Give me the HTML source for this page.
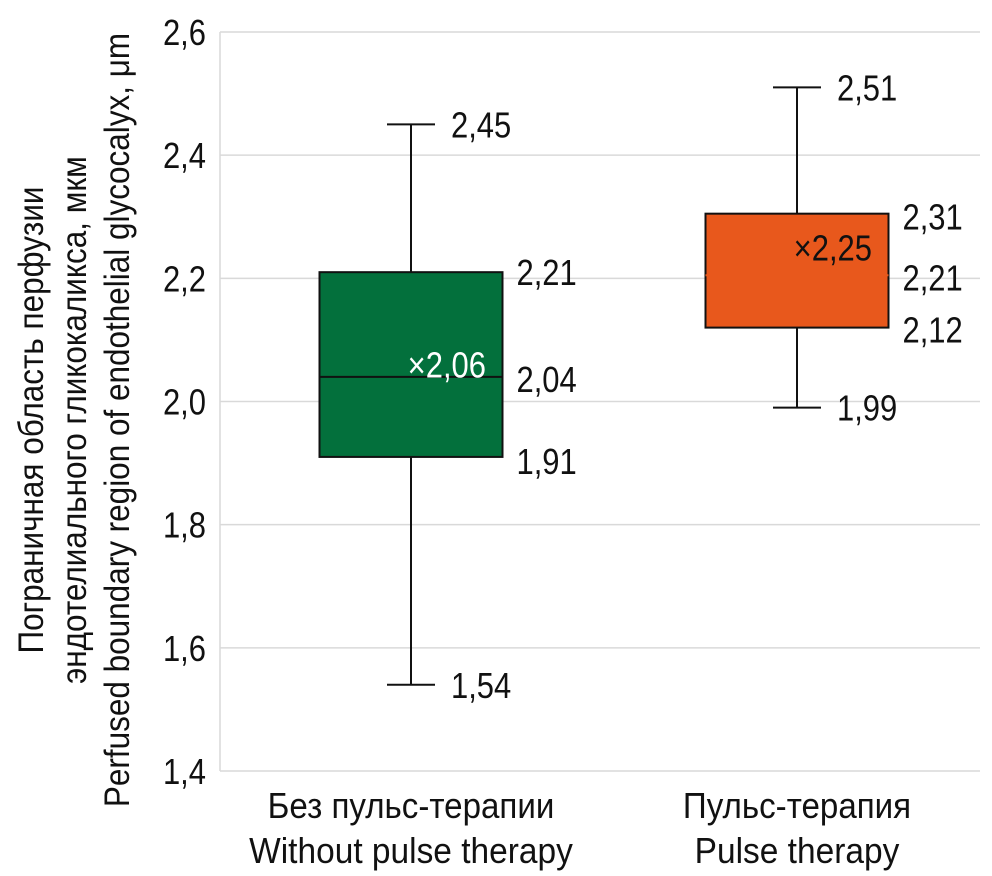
<!DOCTYPE html>
<html><head><meta charset="utf-8">
<style>
html,body{margin:0;padding:0;background:#fff;}
svg{display:block;font-family:"Liberation Sans Narrow","Liberation Sans",sans-serif;}
</style></head>
<body>
<svg id="chart" width="992" height="876" viewBox="0 0 992 876"></svg>
<script>
const categoriesRu = ["Без пульс-терапии", "Пульс-терапия"];
const categoriesEn = ["Without pulse therapy", "Pulse therapy"];
const mins = [1.54, 1.99];
const q1s = [1.91, 2.12];
const medians = [2.04, 2.205];
const q3s = [2.21, 2.305];
const maxs = [2.45, 2.51];
const means = [2.06, 2.25];
const minLabels = ["1,54", "1,99"];
const q1Labels = ["1,91", "2,12"];
const medLabels = ["2,04", "2,21"];
const q3Labels = ["2,21", "2,31"];
const maxLabels = ["2,45", "2,51"];
const meanLabels = ["×2,06", "×2,25"];
const yTicks = [1.4, 1.6, 1.8, 2.0, 2.2, 2.4, 2.6];
const yTickLabels = ["1,4", "1,6", "1,8", "2,0", "2,2", "2,4", "2,6"];
const colors = ["#03703c", "#e8581c"];

const svg = document.getElementById('chart');
const NS = "http://www.w3.org/2000/svg";
const X0 = 220, X1 = 980, Y0 = 771, Y1 = 32;
const SX = 0.86, FS = 36;
function y(v){ return Y0 - (v - 1.4) / (2.6 - 1.4) * (Y0 - Y1); }
function xc(i){ return 411 + i * 386; }
function el(tag, attrs, text){
  const e = document.createElementNS(NS, tag);
  for (const k in attrs) e.setAttribute(k, attrs[k]);
  if (text !== undefined) e.textContent = text;
  svg.appendChild(e);
  return e;
}
function txt(x, yy, anchor, str, fill, sx){
  return el('text', {x: 0, y: 0, 'text-anchor': anchor, 'font-size': FS, fill: fill || '#111',
    transform: 'translate(' + x + ',' + yy + ') scale(' + (sx || SX) + ',1)'}, str);
}
yTicks.forEach((t, i) => {
  const g = el('line', {x1: X0, x2: X1, y1: y(t), y2: y(t), stroke: '#d9d9d9', 'stroke-width': 1.5});
  
  
  const lb = txt(206, y(t) + 13, 'end', yTickLabels[i]);
  
  
});
const ax = el('line', {x1: X0, x2: X0, y1: Y1, y2: Y0, stroke: '#d9d9d9', 'stroke-width': 1.5});



const bw = 183, cw = 48;
for (let i = 0; i < 2; i++) {
  const c = xc(i);
  const w1 = el('line', {x1: c, x2: c, y1: y(maxs[i]), y2: y(q3s[i]), stroke: '#111', 'stroke-width': 2});
  
  
  const w2 = el('line', {x1: c, x2: c, y1: y(q1s[i]), y2: y(mins[i]), stroke: '#111', 'stroke-width': 2});
  
  
  [maxs[i], mins[i]].forEach(v => {
    const cap = el('line', {x1: c - cw/2, x2: c + cw/2, y1: y(v), y2: y(v), stroke: '#111', 'stroke-width': 2});
    
    
  });
  const box = el('rect', {x: c - bw/2, y: y(q3s[i]), width: bw, height: y(q1s[i]) - y(q3s[i]), fill: colors[i], stroke: '#111', 'stroke-width': 2});
  
  
  const med = el('line', {x1: c - bw/2, x2: c + bw/2, y1: y(medians[i]), y2: y(medians[i]), stroke: i === 0 ? '#111' : colors[i], 'stroke-width': 2});
  
  
  const mt = txt(c + 75, y(means[i]) + 13, 'end', meanLabels[i], i === 0 ? '#fff' : '#111');
  
  
  const lx = c + 40;
  const t1 = txt(lx, y(maxs[i]) + 13, 'start', maxLabels[i]);
  
  
  const t2 = txt(lx, y(mins[i]) + 13, 'start', minLabels[i]);
  
  
  const bx = c + bw/2 + 14;
  const t3 = txt(bx, y(q3s[i]) + (i === 0 ? 13 : 16), 'start', q3Labels[i]);
  
  
  const t4 = txt(bx, y(medians[i]) + 15, 'start', medLabels[i]);
  
  
  const t5 = txt(bx, y(q1s[i]) + (i === 0 ? 17 : 15), 'start', q1Labels[i]);
  
  
  const x1 = txt(c, 818, 'middle', categoriesRu[i], '#111', 0.92);
  
  
  const x2 = txt(c, 863, 'middle', categoriesEn[i], '#111', 0.93);
  
  
}
const titles = ["Пограничная область перфузии", "эндотелиального гликокаликса, мкм", "Perfused boundary region of endothelial glycocalyx, μm"];
const tx = [43, 86, 129];
titles.forEach((t, i) => {
  const e = el('text', {x: 0, y: 0, 'text-anchor': 'middle', 'font-size': 35, fill: '#111', transform: 'translate(' + tx[i] + ',420) rotate(-90) scale(0.9,1)'}, t);
  
  
});
</script>
</body></html>
